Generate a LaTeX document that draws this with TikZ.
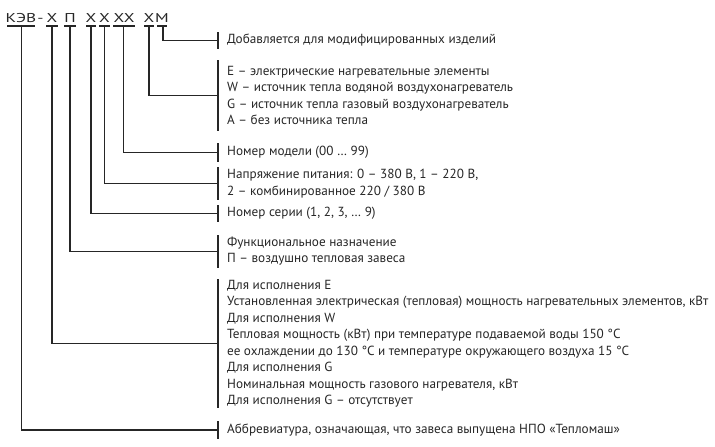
\documentclass[tikz,border=0pt]{standalone}
\usepackage{fontspec}
\setmainfont{PT Sans}
\definecolor{ink}{HTML}{262626}
\begin{document}
\begin{tikzpicture}[x=1pt,y=-1pt,
  ln/.style={line width=1.3pt, draw=ink},
  brk/.style={line width=1.6pt, draw=ink},
  bar/.style={line width=1.3pt, draw=ink},
  codech/.style={anchor=base, inner sep=0pt, text=ink, font=\fontsize{12.8}{14}\selectfont, xscale=1.35, transform shape},
  desc/.style={anchor=west, align=left, inner sep=0pt, text=ink, font=\fontsize{13.2}{16.5}\selectfont}]
\useasboundingbox (0,0) rectangle (715,447);

% code letters
\node[codech] (kev) at (21,22) {КЭВ};
\node[codech] (dash) at (40.5,22) {-};
\node[codech] (x1) at (52,22) {Х};
\node[codech] (p) at (70,22) {П};
\node[codech] (x2) at (91,22) {Х};
\node[codech] (x3) at (104.5,22) {Х};
\node[codech] (x4) at (124,22) {ХХ};
\node[codech] (x5) at (149,22) {Х};
\node[codech] (m) at (162,22) {М};

% bars under code groups
\coordinate (b-kev) at (21.5,26);
\coordinate (b-x1) at (52,26);
\coordinate (b-p) at (70,26);
\coordinate (b-x2) at (91,26);
\coordinate (b-x3) at (104.5,26);
\coordinate (b-x4) at (123.5,26);
\coordinate (b-x5) at (149,26);
\coordinate (b-m) at (163,26);
\draw[bar] (7,26) -- (35,26);
\draw[bar] (46,26) -- (58,26);
\draw[bar] (64,26) -- (76,26);
\draw[bar] (86,26) -- (96,26);
\draw[bar] (99,26) -- (110,26);
\draw[bar] (113,26) -- (135,26);
\draw[bar] (144,26) -- (154,26);
\draw[bar] (157,26) -- (167,26);

% brackets
\foreach \n/\t/\b in {m/32/49, x5/60/131, x4/143/162, x3/167/200, x2/205/222, p/235/268, x1/279/408, kev/421/439}{
  \coordinate (t-\n) at (218,\t);
  \coordinate (e-\n) at (218,\b);
  \coordinate (c-\n) at (218,{(\t+\b)/2});
  \draw[brk] (t-\n) -- (e-\n);
}

% descriptions
\node[desc] (d-m) at (227,40.5) {Добавляется для модифицированных изделий};
\node[desc] (d-x5) at (227,95.5) {Е – электрические нагревательные элементы\\W – источник тепла водяной воздухонагреватель\\G – источник тепла газовый воздухонагреватель\\А – без источника тепла};
\node[desc] (d-x4) at (227,152.5) {Номер модели (00 … 99)};
\node[desc] (d-x3) at (227,183.5) {Напряжение питания: 0 – 380 В, 1 – 220 В,\\2 – комбинированное 220 / 380 В};
\node[desc] (d-x2) at (227,213.5) {Номер серии (1, 2, 3, … 9)};
\node[desc] (d-p) at (227,251) {Функциональное назначение\\П – воздушно тепловая завеса};
\node[desc] (d-x1) at (227,343.5) {Для исполнения Е\\Установленная электрическая (тепловая) мощность нагревательных элементов, кВт\\Для исполнения W\\Тепловая мощность (кВт) при температуре подаваемой воды 150 °C\\ее охлаждении до 130 °C и температуре окружающего воздуха 15 °C\\Для исполнения G\\Номинальная мощность газового нагревателя, кВт\\Для исполнения G – отсутствует};
\node[desc] (d-kev) at (227,430) {Аббревиатура, означающая, что завеса выпущена НПО «Тепломаш»};

% connectors
\draw[ln] (b-m) |- (c-m);
\draw[ln] (b-x5) |- (c-x5);
\draw[ln] (b-x4) |- (c-x4);
\draw[ln] (b-x3) |- (c-x3);
\draw[ln] (b-x2) |- (c-x2);
\draw[ln] (b-p) |- (c-p);
\draw[ln] (b-x1) |- (c-x1);
\draw[ln] (b-kev) |- (c-kev);
\end{tikzpicture}
\end{document}
